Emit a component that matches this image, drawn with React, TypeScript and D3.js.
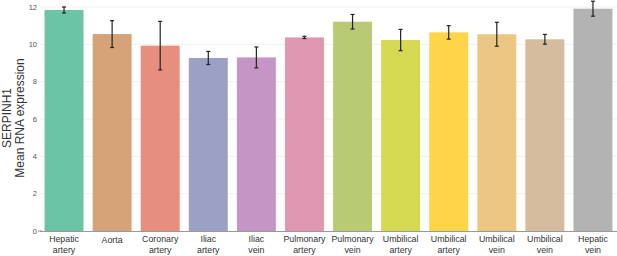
import React from "react";
import * as d3 from "d3";

const categories = [
  ["Hepatic", "artery"],
  ["Aorta"],
  ["Coronary", "artery"],
  ["Iliac", "artery"],
  ["Iliac", "vein"],
  ["Pulmonary", "artery"],
  ["Pulmonary", "vein"],
  ["Umbilical", "artery"],
  ["Umbilical", "artery"],
  ["Umbilical", "vein"],
  ["Umbilical", "vein"],
  ["Hepatic", "vein"],
];
const means = [11.84, 10.55, 9.93, 9.27, 9.3, 10.37, 11.21, 10.23, 10.64, 10.54, 10.27, 11.91];
const errors = [0.16, 0.72, 1.3, 0.35, 0.56, 0.06, 0.39, 0.57, 0.36, 0.64, 0.26, 0.4];
const colors = [
  "#6bc4a6", "#d5a377", "#e78f7e", "#9ba0c4", "#c495c5", "#df97b1",
  "#b8cb74", "#d4d951", "#fdd547", "#ecc783", "#d6bc9f", "#b3b3b3",
];
const yTicks = [0, 2, 4, 6, 8, 10, 12];

export default function App() {
  const W = 617, H = 256;
  const x = d3.scaleBand<number>().domain(d3.range(categories.length)).range([40, 617]).paddingInner(0.19).paddingOuter(0.095);
  const y = d3.scaleLinear().domain([0, 12]).range([231, 7]);
  return (
    <svg width={W} height={H} style={{ position: "absolute", left: 0, top: 0 }} fontFamily="Liberation Sans, Arial, sans-serif">
      {yTicks.map((t) => (
        <g key={t}>
          {t > 0 && <line x1={40} x2={617} y1={y(t)} y2={y(t)} stroke="#f0f0f0" strokeWidth={1} />}
          <text x={37} y={y(t)} dy="0.35em" textAnchor="end" fontSize={7.5} fill="#555">{t}</text>
        </g>
      ))}
      <line x1={38} x2={42} y1={y(0)} y2={y(0)} stroke="#888" />
      {means.map((m, i) => (
        <rect key={i} x={x(i)} y={y(m)} width={x.bandwidth()} height={y(0) - y(m)} fill={colors[i]} />
      ))}
      <line x1={40} x2={617} y1={y(0) + 0.5} y2={y(0) + 0.5} stroke="#999" strokeWidth={1.2} />
      {means.map((m, i) => {
        const cx = x(i)! + x.bandwidth() / 2;
        const hi = y(m + errors[i]), lo = y(m - errors[i]);
        return (
          <g key={"e" + i} stroke="#222" strokeWidth={1.2}>
            <line x1={cx} x2={cx} y1={hi} y2={lo} />
            <line x1={cx - 2} x2={cx + 2} y1={hi} y2={hi} />
            <line x1={cx - 2} x2={cx + 2} y1={lo} y2={lo} />
          </g>
        );
      })}
      {categories.map((c, i) => {
        const cx = x(i)! + x.bandwidth() / 2;
        return (
          <text key={"l" + i} x={cx} y={c.length === 1 ? 243 : 242} textAnchor="middle" fontSize={8.8} fill="#333">
            {c.map((s, k) => (
              <tspan key={k} x={cx} dy={k === 0 ? 0 : 10.5}>{s}</tspan>
            ))}
          </text>
        );
      })}
      <g transform="translate(0,118) rotate(-90)">
        <text x={0} y={11} textAnchor="middle" fontSize={12} fill="#333">SERPINH1</text>
        <text x={0} y={24} textAnchor="middle" fontSize={12} fill="#333">Mean RNA expression</text>
      </g>
    </svg>
  );
}
